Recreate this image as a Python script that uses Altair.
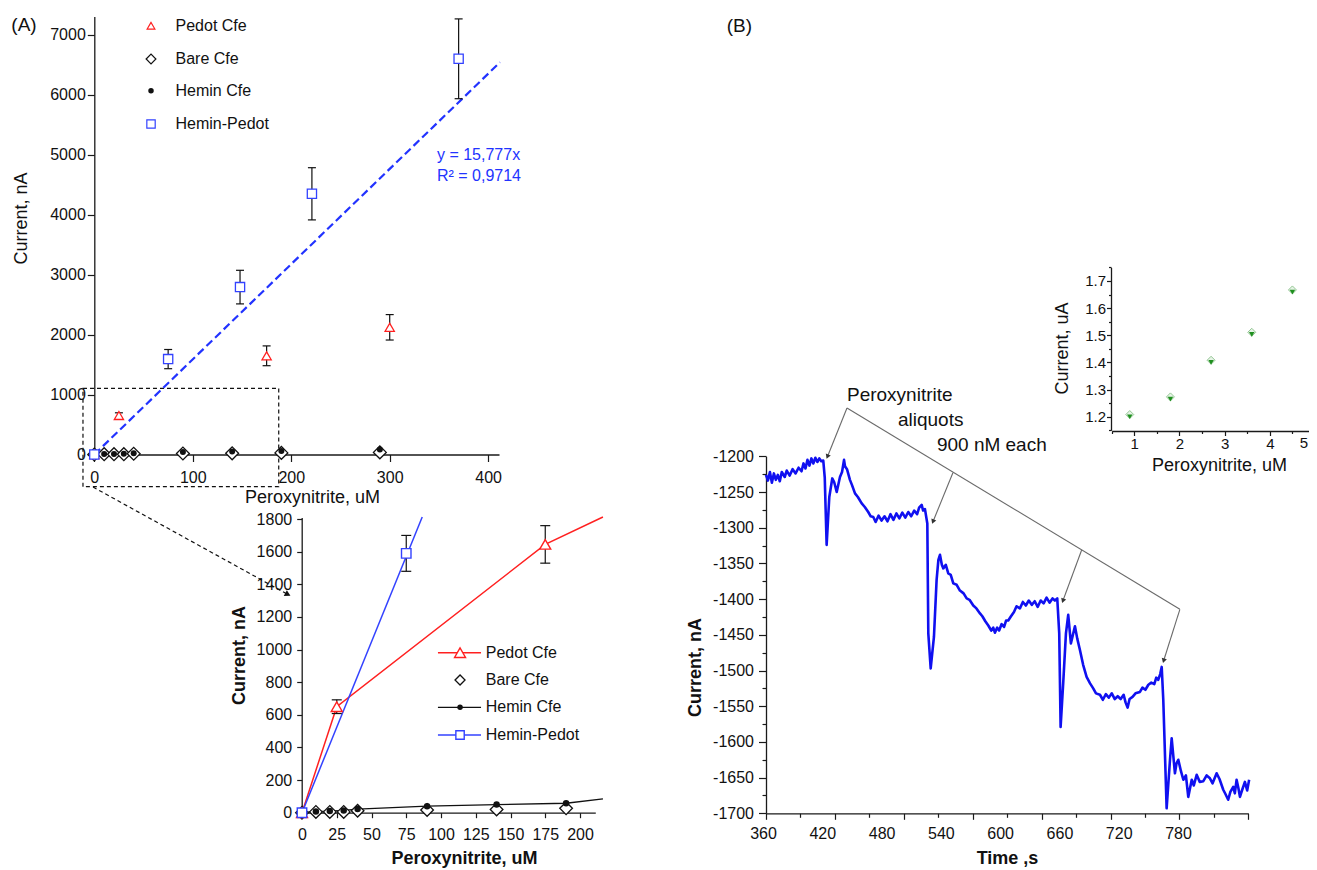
import altair as alt
import pandas as pd

FONT = "Liberation Sans"
W, H = 1301, 862
M = 8  # page margin


def cx(p):
    return p - M


def cy(p):
    return p - M


# ------------------------------------------------------------------ data
# Panel A : calibration (nA vs uM)
hp_x = [0, 75, 148, 221, 370]
hp_y = [0, 1590, 2790, 4345, 6595]
hp_err = [0, 160, 280, 435, 665]

pe_x = [0, 25, 175, 300]
pe_y = [0, 650, 1645, 2120]
pe_err = [0, 45, 165, 212]

cfe_x = [0, 10, 20, 30, 40, 90, 140, 190, 290]
bare_y = [0, 5, 5, 5, 12, 17, 20, 27, 35]
hemin_y = [0, 8, 10, 14, 22, 40, 50, 58, 85]

fit_x = [0, 412]
fit_y = [0, 6537]

zoom_hp_err = [0, 110]
zoom_pe_err = [0, 42, 115]
zoom_hp_line_x = [0, 86.5]
zoom_hp_line_y = [0, 1846]

series_names = ["Pedot Cfe", "Bare Cfe", "Hemin Cfe", "Hemin-Pedot"]
fit_labels = ["y = 15,777x", "R\u00b2 = 0,9714"]

# Panel B : amperometric trace
time_s = [363, 365, 367, 369, 371, 373, 375, 377, 379, 382, 384, 387, 390, 393, 396, 399, 401, 403, 405, 407,
          409, 411, 413, 415, 417, 419, 421,
          422.5, 424.4, 427.1, 430.1, 432, 434.6, 437.9, 440, 442, 443, 445, 448, 450, 453.1, 456, 459.9, 463,
          466.5, 469, 471.6, 474, 477, 480, 483, 486, 489, 492, 495, 498, 501, 504, 507, 510, 513, 516, 518,
          520.6, 522, 523.9, 526.3,
          527.3, 529.7, 533, 535.7, 537.5, 539.1, 541, 542.5, 545, 547.5, 550, 552.6, 556, 559.3, 563, 566.1,
          569, 572.8, 576, 579.6, 582, 585, 588, 591, 593, 594.7, 597, 599, 601.5, 604, 606, 608.2, 611, 614,
          616.6, 620, 623, 626, 629, 632, 635, 638, 641, 644, 647, 650, 653, 655.4, 657.8,
          659.8, 661.2, 663.8, 666.6, 668.9, 671.6, 675.7, 678, 680.7, 684, 687.5, 691, 694.2, 697, 701, 704,
          707, 710, 713, 716, 719, 722, 725, 727, 729, 731, 734, 737, 741.5, 744, 747, 750, 753, 756, 758, 760,
          762, 763.5, 765.1,
          768.5, 771.9, 773.6, 776.9, 778.5, 780.3, 783, 785.4, 788, 790.4, 793.9, 796, 798.9, 802, 805.6, 809,
          812.3, 815, 819.1, 822, 825.8, 828, 830.8, 833, 835.9, 837.5, 839.3, 841, 842.7, 845, 847.7, 850, 852]
current_nA = [-1226, -1234, -1222, -1237, -1224, -1233, -1226, -1235, -1222, -1229, -1220, -1227, -1218, -1224,
              -1216, -1221, -1210, -1217, -1205, -1213, -1203, -1210, -1202, -1208, -1203, -1207, -1206,
              -1230, -1324, -1257, -1231, -1236, -1250, -1229, -1222, -1205, -1214, -1218, -1233, -1240, -1252,
              -1257, -1266, -1271, -1278, -1284, -1285, -1292, -1283, -1290, -1284, -1291, -1281, -1289, -1280,
              -1287, -1279, -1286, -1278, -1284, -1276, -1281, -1272, -1268, -1276, -1274, -1294,
              -1448, -1497, -1453, -1373, -1345, -1338, -1352, -1357, -1352, -1364, -1366, -1378, -1380, -1388,
              -1392, -1399, -1401, -1409, -1413, -1420, -1424, -1431, -1437, -1444, -1440, -1447, -1440, -1444,
              -1435, -1439, -1430, -1430, -1424, -1418, -1410, -1413, -1404, -1409, -1402, -1408, -1403, -1411,
              -1402, -1406, -1398, -1405, -1399, -1402, -1399,
              -1448, -1579, -1518, -1448, -1422, -1462, -1438, -1455, -1471, -1492, -1509, -1518, -1525, -1532,
              -1534, -1541, -1533, -1538, -1532, -1540, -1536, -1540, -1534, -1545, -1552, -1540, -1537, -1532,
              -1530, -1524, -1527, -1520, -1517, -1519, -1510, -1513, -1505, -1495, -1541,
              -1693, -1625, -1595, -1644, -1630, -1625, -1641, -1653, -1647, -1677, -1653, -1661, -1646, -1656,
              -1655, -1647, -1651, -1658, -1644, -1652, -1667, -1673, -1681, -1670, -1663, -1672, -1653, -1664,
              -1677, -1667, -1656, -1668, -1653]

ann_labels = ["Peroxynitrite", "aliquots", "900 nM each"]

inset_conc = [0.9, 1.8, 2.7, 3.6, 4.5]
inset_cur = [1.208, 1.273, 1.408, 1.511, 1.667]
inset_xticks = [1, 2, 3, 4, 5]

# ------------------------------------------------------------------ style
RED = "#ff2020"
BLUE = "#2233ff"
SQB = "#3342ff"
INK = "#111111"
TRACE = "#1010f0"
GREEN = "#1f8f1f"
GRAY = "#6a6a6a"

# pixel placement of each panel (page coords -> chart coords)
SC = {
    "Ax": dict(domain=[0, 411], range=[cx(94.3), cx(499)]),
    "Ay": dict(domain=[0, 7300], range=[cy(454.5), cy(16.5)]),
    "Zx": dict(domain=[0, 211], range=[cx(302), cx(302 + 211 * 1.39)]),
    "Zy": dict(domain=[0, 1810], range=[cy(812.7), cy(812.7 - 1810 * 0.1631)]),
    "ZLx": dict(domain=[0, 216.5], range=[cx(302), cx(302 + 216.5 * 1.39)], clamp=True),
    "ZLy": dict(domain=[0, 1813], range=[cy(812.7), cy(812.7 - 1813 * 0.1631)], clamp=True),
    "Bx": dict(domain=[360, 780], range=[cx(763), cx(1178)]),
    "BTx": dict(domain=[360, 780], range=[cx(766), cx(1248.3)]),
    "By": dict(domain=[-1700, -1200], range=[cy(813.3), cy(456.3)]),
    "Ix": dict(domain=[0.5, 5], range=[cx(1111.7), cx(1315)]),
    "Iy": dict(domain=[1.15, 1.75], range=[cy(430.3), cy(267.4)]),
}


def S(k):
    return alt.Scale(nice=False, zero=False, **SC[k])


def XY(kx, ky, xf="x", yf="y", xaxis=None, yaxis=None):
    return dict(x=alt.X(f"{xf}:Q", scale=S(kx), axis=xaxis),
                y=alt.Y(f"{yf}:Q", scale=S(ky), axis=yaxis))


def ax(orient, offset, values, tick, pad, lsize, title=None, tx=0, ty=0, bold=False,
       labels=True, ticks=True, domain=True, expr="'' + datum.value", tsize=18):
    kw = dict(orient=orient, offset=offset, values=values, grid=False, domain=domain, ticks=ticks,
              labels=labels, tickSize=tick, labelPadding=pad, labelFontSize=lsize, labelFont=FONT,
              labelColor=INK, labelFlush=False, labelOverlap=False,
              domainColor="#1a1a1a", tickColor="#1a1a1a", domainWidth=1.3, tickWidth=1.2,
              labelBaseline="middle", labelAlign="center" if orient == "bottom" else "right",
              labelExpr=expr)
    if title:
        kw.update(title=title, titleX=tx, titleY=ty, titleFont=FONT, titleFontSize=tsize,
                  titleFontWeight="bold" if bold else "normal", titleColor=INK, titleAlign="center",
                  titleBaseline="middle", titleAngle=0 if orient == "bottom" else 270, titlePadding=0)
    else:
        kw["title"] = None
    return alt.Axis(**kw)


def axis_layer(kx, ky, xaxis=None, yaxis=None):
    df = pd.DataFrame({"x": [SC[kx]["domain"][0]], "y": [SC[ky]["domain"][0]]})
    return alt.Chart(df).mark_point(opacity=0).encode(**XY(kx, ky, xaxis=xaxis, yaxis=yaxis))


def pts(xs, ys, kx, ky, **mk):
    return alt.Chart(pd.DataFrame({"x": xs, "y": ys})).mark_point(opacity=1, **mk).encode(**XY(kx, ky))


def line(xs, ys, kx, ky, **mk):
    return alt.Chart(pd.DataFrame({"x": xs, "y": ys})).mark_line(**mk).encode(**XY(kx, ky))


def texts(labels, xs, ys, kx, ky, **mk):
    df = pd.DataFrame({"x": xs, "y": ys, "t": labels})
    return alt.Chart(df).mark_text(font=FONT, **mk).encode(**XY(kx, ky), text="t:N")


def segs(x, y, x2, y2, kx, ky, **mk):
    df = pd.DataFrame({"x": x, "y": y, "x2": x2, "y2": y2})
    return alt.Chart(df).mark_rule(**mk).encode(**XY(kx, ky), x2="x2:Q", y2="y2:Q")


def errframe(xs, ys, es):
    rows = [(x, y - e, y + e) for x, y, e in zip(xs, ys, es) if e > 0]
    return pd.DataFrame(rows, columns=["x", "lo", "hi"])


def errbars(df, kx, ky, cap):
    rules = alt.Chart(df).mark_rule(color=INK, strokeWidth=1.2).encode(**XY(kx, ky, yf="lo"), y2="hi:Q")
    caps_df = pd.concat([df[["x", "lo"]].rename(columns={"lo": "y"}),
                         df[["x", "hi"]].rename(columns={"hi": "y"})])
    caps = alt.Chart(caps_df).mark_tick(orient="horizontal", size=cap, thickness=1.2, color=INK,
                                        opacity=1).encode(**XY(kx, ky))
    return [rules, caps]


layers = []

# ================================================================ panel A (main)
axA_x = ax("bottom", cy(454.5) - H, [0, 100, 200, 300, 400], 7, 16, 16,
           "Peroxynitrite, uM", cx(312), 497 - 454.5)
axA_y = ax("left", -cx(94.3), [0, 1000, 2000, 3000, 4000, 5000, 6000, 7000], 7, 2, 16,
           "Current, nA", 21 - 94.3, cy(218))
layers.append(axis_layer("Ax", "Ay", axA_x, axA_y))

# dashed zoom box and arrow towards the enlarged view
box = pd.DataFrame({"x": [-11.5], "x2": [187.3], "y": [-537], "y2": [1103]})
layers.append(alt.Chart(box).mark_rect(fillOpacity=0, stroke=INK, strokeWidth=1.2, strokeDash=[4, 3])
              .encode(**XY("Ax", "Ay"), x2="x2:Q", y2="y2:Q"))
layers.append(segs([-1.3], [-542], [195.7], [-2325], "Ax", "Ay", color=INK, strokeWidth=1.2,
                   strokeDash=[4, 3]))
layers.append(pts([195.7], [-2325], "Ax", "Ay", shape="triangle", filled=True, color=INK, size=45,
                  angle=118))

layers.append(line(fit_x, fit_y, "Ax", "Ay", color=BLUE, strokeWidth=2.2, strokeDash=[8, 4]))
layers += errbars(pd.concat([errframe(hp_x, hp_y, hp_err), errframe(pe_x, pe_y, pe_err)]), "Ax", "Ay", 8)
layers.append(pts(cfe_x, bare_y, "Ax", "Ay", shape="diamond", filled=True, fill="white", stroke=INK,
                  strokeWidth=1.3, size=165))
layers.append(pts(cfe_x, hemin_y, "Ax", "Ay", shape="circle", filled=True, color=INK, size=36))
layers.append(pts(pe_x, pe_y, "Ax", "Ay", shape="triangle-up", filled=True, fill="white", stroke=RED,
                  strokeWidth=1.3, size=85))
layers.append(pts(hp_x, hp_y, "Ax", "Ay", shape="square", filled=True, fill="white", stroke=SQB,
                  strokeWidth=1.3, size=85))

# legend of panel A
legA_y = [7147, 6592, 6063, 5508]
legA_sx, legA_tx = 57.6, 82.5
layers.append(pts([legA_sx], [legA_y[0]], "Ax", "Ay", shape="triangle-up", filled=True, fill="white",
                  stroke=RED, strokeWidth=1.2, size=60))
layers.append(pts([legA_sx], [legA_y[1]], "Ax", "Ay", shape="diamond", filled=True, fill="white",
                  stroke=INK, strokeWidth=1.2, size=95))
layers.append(pts([legA_sx], [legA_y[2]], "Ax", "Ay", shape="circle", filled=True, color=INK, size=30))
layers.append(pts([legA_sx], [legA_y[3]], "Ax", "Ay", shape="square", filled=True, fill="white",
                  stroke=SQB, strokeWidth=1.2, size=70))
layers.append(texts(series_names, [legA_tx] * 4, legA_y, "Ax", "Ay", align="left", baseline="middle",
                    fontSize=16, color=INK))
layers.append(texts(fit_labels, [348, 348], [4992, 4642], "Ax", "Ay", align="left", baseline="middle",
                    fontSize=16, color=BLUE))
layers.append(texts(["(A)"], [-71.4], [7158], "Ax", "Ay", align="center", baseline="middle",
                    fontSize=19, color=INK))

# ================================================================ panel A (enlarged)
axZ_x = ax("bottom", cy(812.7) - H, [0, 25, 50, 75, 100, 125, 150, 175, 200], 5, 17, 16,
           "Peroxynitrite, uM", cx(464), 858 - 812.7, bold=True)
axZ_y = ax("left", -cx(301.7), [0, 200, 400, 600, 800, 1000, 1200, 1400, 1600, 1800], 5, 5, 16,
           "Current, nA", 239 - 301.7, cy(655), bold=True)
layers.append(axis_layer("Zx", "Zy", axZ_x, axZ_y))

layers.append(line(pe_x, pe_y, "ZLx", "ZLy", color=RED, strokeWidth=1.5))
layers.append(line(zoom_hp_line_x, zoom_hp_line_y, "ZLx", "ZLy", color=SQB, strokeWidth=1.5))
layers.append(line(cfe_x, hemin_y, "ZLx", "ZLy", color=INK, strokeWidth=1.3))
layers += errbars(pd.concat([errframe(hp_x[:2], hp_y[:2], zoom_hp_err),
                             errframe(pe_x[:3], pe_y[:3], zoom_pe_err)]), "Zx", "Zy", 10)
layers.append(pts(cfe_x[:8], bare_y[:8], "Zx", "Zy", shape="diamond", filled=True, fill="white",
                  stroke=INK, strokeWidth=1.3, size=160))
layers.append(pts(cfe_x[:8], hemin_y[:8], "Zx", "Zy", shape="circle", filled=True, color=INK, size=42))
layers.append(pts(pe_x[:3], pe_y[:3], "Zx", "Zy", shape="triangle-up", filled=True, fill="white",
                  stroke=RED, strokeWidth=1.4, size=120))
layers.append(pts(hp_x[:2], hp_y[:2], "Zx", "Zy", shape="square", filled=True, fill="white", stroke=SQB,
                  strokeWidth=1.4, size=90))

legZ_y = [981, 813.6, 646.2, 476.4]
legZ_x0, legZ_x1, legZ_sx, legZ_tx = 97.8, 128.8, 113.7, 132.2
layers.append(segs([legZ_x0], [legZ_y[0]], [legZ_x1], [legZ_y[0]], "Zx", "Zy", color=RED, strokeWidth=1.5))
layers.append(segs([legZ_x0], [legZ_y[2]], [legZ_x1], [legZ_y[2]], "Zx", "Zy", color=INK, strokeWidth=1.3))
layers.append(segs([legZ_x0], [legZ_y[3]], [legZ_x1], [legZ_y[3]], "Zx", "Zy", color=SQB, strokeWidth=1.5))
layers.append(pts([legZ_sx], [legZ_y[0]], "Zx", "Zy", shape="triangle-up", filled=True, fill="white",
                  stroke=RED, strokeWidth=1.4, size=120))
layers.append(pts([legZ_sx], [legZ_y[1]], "Zx", "Zy", shape="diamond", filled=True, fill="white",
                  stroke=INK, strokeWidth=1.3, size=100))
layers.append(pts([legZ_sx], [legZ_y[2]], "Zx", "Zy", shape="circle", filled=True, color=INK, size=30))
layers.append(pts([legZ_sx], [legZ_y[3]], "Zx", "Zy", shape="square", filled=True, fill="white",
                  stroke=SQB, strokeWidth=1.4, size=70))
layers.append(texts(series_names, [legZ_tx] * 4, legZ_y, "Zx", "Zy", align="left", baseline="middle",
                    fontSize=16, color=INK))

# ================================================================ panel B (trace)
offB = cy(813.3) - H
axB_xt = ax("bottom", offB, [360, 420, 480, 540, 600, 660, 720, 780], 6, 0, 16, "Time ,s", cx(1007),
            858 - 813.3, bold=True, labels=False)
axB_y = ax("left", -cx(766), [-1700, -1650, -1600, -1550, -1500, -1450, -1400, -1350, -1300, -1250, -1200],
           7.5, 5, 16, "Current, nA", 695 - 766, cy(667), bold=True)
layers.append(axis_layer("BTx", "By", axB_xt, axB_y))
axB_xm = ax("bottom", offB, [390, 450, 510, 570, 630, 690, 750], 4, 0, 16, labels=False, domain=False)
axB_ym = ax("left", -cx(766), [-1675, -1625, -1575, -1525, -1475, -1425, -1375, -1325, -1275, -1225],
            4, 0, 16, labels=False, domain=False)
layers.append(axis_layer("BTx", "By", axB_xm, axB_ym))
axB_xl = ax("bottom", offB, [360, 420, 480, 540, 600, 660, 720, 780], 0, 20, 16, labels=True, ticks=False,
            domain=False)
layers.append(axis_layer("Bx", "By", axB_xl, None))

layers.append(line(time_s, current_nA, "Bx", "By", color=TRACE, strokeWidth=2.6, strokeJoin="round"))

layers.append(segs([445, 445, 552.2, 682.5, 781.9],
                   [-1132.4, -1132.4, -1223, -1331.2, -1414.3],
                   [425.5, 781.9, 532.3, 663.8, 765.7],
                   [-1199.6, -1414.3, -1290.6, -1401.3, -1485.3],
                   "Bx", "By", color=GRAY, strokeWidth=1.1))
heads = pd.DataFrame({"x": [425.5, 532.3, 663.8, 765.7], "y": [-1199.6, -1290.6, -1401.3, -1485.3],
                      "a": [202, 202, 200, 197]})
layers.append(alt.Chart(heads).mark_point(shape="triangle", filled=True, color="#333", size=28, opacity=1)
              .encode(**XY("Bx", "By"), angle=alt.Angle("a:Q", scale=None)))
layers.append(texts(ann_labels, [445, 496.6, 536], [-1114, -1149, -1184], "Bx", "By", align="left",
                    baseline="middle", fontSize=19, color=INK))
layers.append(texts(["(B)"], [336], [-597], "Bx", "By", align="center", baseline="middle",
                    fontSize=19, color=INK))

# ================================================================ panel B (inset)
offI = cy(431) - H
# the last tick label ("5") sits at the very page edge: it is drawn as a text mark pulled inwards
axI_x = ax("bottom", offI, inset_xticks, 4.5, 8, 15, "Peroxynitrite, uM", cx(1219), 465 - 431,
           expr="datum.value == 5 ? '' : '' + datum.value")
axI_y = ax("left", -cx(1111), [1.2, 1.3, 1.4, 1.5, 1.6, 1.7], 4.5, 1, 15, "Current, uA", 1062 - 1111,
           cy(348), expr="format(datum.value, '.1f')")
layers.append(axis_layer("Ix", "Iy", axI_x, axI_y))
axI_xm = ax("bottom", offI, [0.5, 1.5, 2.5, 3.5, 4.5], 2.5, 0, 15, labels=False, domain=False)
axI_ym = ax("left", -cx(1111), [1.15, 1.25, 1.35, 1.45, 1.55, 1.65, 1.75], 2.5, 0, 15, labels=False,
            domain=False)
layers.append(axis_layer("Ix", "Iy", axI_xm, axI_ym))
layers.append(texts([str(inset_xticks[-1])], [inset_xticks[-1]], [1.15], "Ix", "Iy", align="right",
                    baseline="middle", fontSize=15, color=INK, dx=-7, dy=12.5))
layers.append(pts(inset_conc, inset_cur, "Ix", "Iy", shape="diamond", filled=True, fill="#e6f3e6",
                  stroke="#7dba7d", strokeWidth=0.8, size=64))
layers.append(pts(inset_conc, inset_cur, "Ix", "Iy", shape="triangle-down", filled=True, color=GREEN,
                  size=30, yOffset=2.2))

chart = (
    alt.layer(*layers)
    .resolve_scale(x="independent", y="independent")
    .properties(width=W, height=H, padding=0, autosize=alt.AutoSizeParams(type="none"))
    .configure_view(strokeWidth=0)
)

chart.save("out.html", embed_options={"renderer": "svg", "actions": False})
